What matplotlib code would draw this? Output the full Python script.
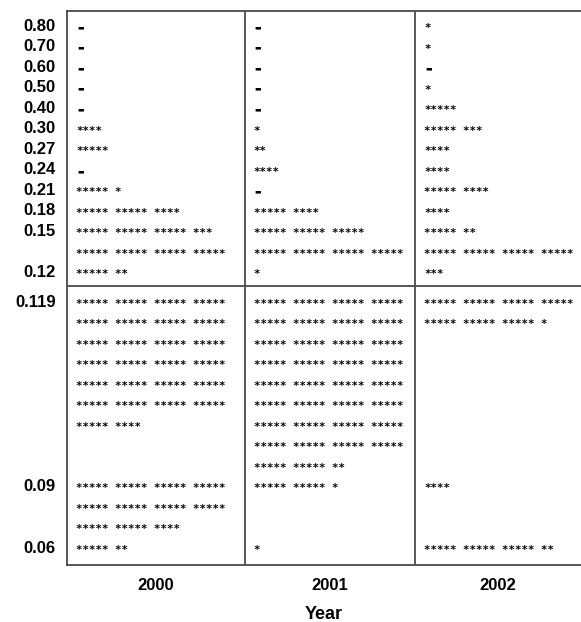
import matplotlib
matplotlib.use("Agg")
import matplotlib.pyplot as plt
import matplotlib.transforms as mtransforms

# years shown as columns
years = ["2000", "2001", "2002"]

# stem labels, upper block (0.12 .. 0.80) and lower block (0.06 .. 0.119)
upper_labels = ["0.80", "0.70", "0.60", "0.50", "0.40", "0.30", "0.27",
                "0.24", "0.21", "0.18", "0.15", "", "0.12"]
lower_labels = ["0.119", "", "", "", "", "", "", "", "", "0.09", "", "", "0.06"]

# counts per row (one * per case); 0 in the upper block is drawn as a dash
upper_2000 = [0, 0, 0, 0, 0, 4, 5, 0, 6, 14, 18, 20, 7]
upper_2001 = [0, 0, 0, 0, 0, 1, 2, 4, 0, 9, 15, 20, 1]
upper_2002 = [1, 1, 0, 1, 5, 8, 4, 4, 9, 4, 7, 20, 3]

lower_2000 = [20, 20, 20, 20, 20, 20, 9, 0, 0, 20, 20, 14, 7]
lower_2001 = [20, 20, 20, 20, 20, 20, 20, 20, 12, 11, 0, 0, 1]
lower_2002 = [20, 16, 0, 0, 0, 0, 0, 0, 0, 4, 0, 0, 17]

upper_counts = [upper_2000, upper_2001, upper_2002]
lower_counts = [lower_2000, lower_2001, lower_2002]

# layout
col_edges = [0.0, 0.346, 0.677, 1.0]
lower_gap = 0.45
line_col = "#4a4a4a"
star_kw = dict(ha="left", va="center", fontsize=7.8, fontweight="bold",
               family="DejaVu Sans Mono")


def stars(n):
    groups = ["*" * 5] * (n // 5)
    if n % 5:
        groups.append("*" * (n % 5))
    return " ".join(groups)


fig = plt.figure(figsize=(5.81, 6.22), dpi=100)
ax = fig.add_axes([67 / 581, 57 / 622, 514 / 581, 554 / 622])
ax.set_xlim(0, 1)
ax.set_ylim(26.34, -0.68)

n_up = len(upper_labels)
y_up = list(range(n_up))
y_low = [n_up + i + lower_gap for i in range(len(lower_labels))]

trans = mtransforms.blended_transform_factory(ax.transAxes, ax.transData)

for c in range(len(years)):
    x0 = col_edges[c] + 0.0175
    for y, n in zip(y_up, upper_counts[c]):
        if n == 0:
            ax.text(x0 + 0.002, y + 0.12, "\u25ac", transform=trans, ha="left",
                    va="center", fontsize=5, family="DejaVu Sans")
        else:
            ax.text(x0, y + 0.15, stars(n), transform=trans, **star_kw)
    for y, n in zip(y_low, lower_counts[c]):
        if n:
            ax.text(x0, y + 0.15, stars(n), transform=trans, **star_kw)

# grid of the display
for e in col_edges[1:-1]:
    ax.axvline(e, color=line_col, lw=1.3)
ax.axhline((y_up[-1] + y_low[0]) / 2 + 0.03, color=line_col, lw=1.3)

for side in ["left", "top", "bottom"]:
    ax.spines[side].set_color(line_col)
    ax.spines[side].set_linewidth(1.3)
ax.spines["right"].set_visible(False)

ax.set_yticks(y_up + y_low, upper_labels + lower_labels)
centers = [(col_edges[i] + col_edges[i + 1]) / 2 for i in range(len(years))]
ax.set_xticks(centers, years)
ax.tick_params(length=0)
ax.tick_params(axis="y", pad=8)
ax.tick_params(axis="x", pad=9)
for lab in ax.get_yticklabels() + ax.get_xticklabels():
    lab.set_fontfamily("Liberation Sans")
    lab.set_fontweight("bold")
    lab.set_fontsize(12)
ax.set_xlabel("Year", fontsize=13, fontweight="bold", family="Liberation Sans",
              labelpad=10)

fig.savefig("out.png", dpi=100)
